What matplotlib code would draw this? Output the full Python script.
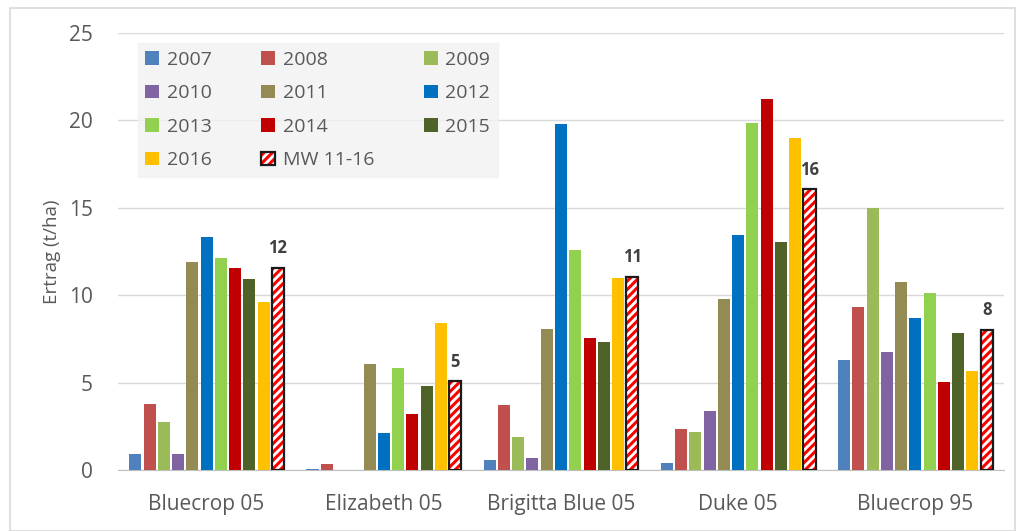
import numpy as np
import matplotlib.pyplot as plt
from matplotlib.patches import Rectangle

categories = ["Bluecrop 05", "Elizabeth 05", "Brigitta Blue 05", "Duke 05", "Bluecrop 95"]
years = ["2007", "2008", "2009", "2010", "2011", "2012", "2013", "2014", "2015", "2016"]

y2007 = [0.9, 0.06, 0.57, 0.38, 6.3]
y2008 = [3.76, 0.34, 3.72, 2.35, 9.3]
y2009 = [2.73, 0.0, 1.87, 2.19, 15.0]
y2010 = [0.9, 0.0, 0.67, 3.39, 6.73]
y2011 = [11.92, 6.06, 8.07, 9.78, 10.77]
y2012 = [13.35, 2.14, 19.8, 13.44, 8.71]
y2013 = [12.15, 5.86, 12.59, 19.87, 10.14]
y2014 = [11.54, 3.18, 7.55, 21.2, 5.05]
y2015 = [10.9, 4.83, 7.34, 13.02, 7.82]
y2016 = [9.63, 8.39, 10.97, 18.97, 5.66]
mw_11_16 = [11.58, 5.08, 11.05, 16.05, 8.03]
mw_labels = ["12", "5", "11", "16", "8"]

series = [y2007, y2008, y2009, y2010, y2011, y2012, y2013, y2014, y2015, y2016]
colors = ["#4F81BD", "#C0504D", "#9BBB59", "#8064A2", "#948A54",
          "#0070C0", "#92D050", "#C00000", "#4F6228", "#FFC000"]

plt.rcParams['font.family'] = ['Open Sans', 'DejaVu Sans']
plt.rcParams['hatch.linewidth'] = 2.2

fig = plt.figure(figsize=(10.2, 5.31), dpi=100)
fig.patches.append(Rectangle((0.01, 0.0), 0.985, 0.985, transform=fig.transFigure,
                             fill=False, edgecolor="#D9D9D9", linewidth=1.2))
ax = fig.add_axes([0.1157, 0.1149, 0.8686, 0.823])

x = np.arange(len(categories))
step = 0.0805
width = 0.068
n = len(series) + 1
offsets = (np.arange(n) - (n - 1) / 2) * step

handles = {}
for i, (vals, col) in enumerate(zip(series, colors)):
    handles[years[i]] = ax.bar(x + offsets[i], vals, width, color=col, zorder=3)

# average bars: red hatch on white, black outline drawn on top
mw_fill = ax.bar(x + offsets[-1], mw_11_16, width, color="white", edgecolor="#FF0000",
                 hatch="////", linewidth=0, zorder=3)
mw_edge = ax.bar(x + offsets[-1], mw_11_16, width, fill=False, edgecolor="#1a1a1a",
                 linewidth=1.6, zorder=4)
handles["MW 11-16"] = (mw_fill, mw_edge)

for xi, v, lab in zip(x + offsets[-1], mw_11_16, mw_labels):
    ax.text(xi, v + 0.6, lab, ha="center", va="bottom", fontsize=12,
            fontweight="bold", color="#404040")

ax.set_xlim(-0.5, len(categories) - 0.5)
ax.set_ylim(0, 25)
ax.set_yticks(range(0, 26, 5))
ax.set_xticks(x)
ax.set_xticklabels(categories)
ax.tick_params(axis="both", length=0, labelsize=15, labelcolor="#595959")
ax.tick_params(axis="y", pad=18)
ax.tick_params(axis="x", pad=17)
ax.yaxis.grid(True, color="#D9D9D9", linewidth=1, zorder=0)
for s in ["top", "right", "left"]:
    ax.spines[s].set_visible(False)
ax.spines["bottom"].set_color("#BFBFBF")
ax.set_ylabel("Ertrag (t/ha)", fontsize=13.5, color="#595959", labelpad=6)

# legend filled column by column, so order gives row-wise reading
order = ["2007", "2010", "2013", "2016",
         "2008", "2011", "2014", "MW 11-16",
         "2009", "2012", "2015"]
leg = ax.legend([handles[k] for k in order], order, ncol=3, loc="upper left",
                bbox_to_anchor=(0.022, 0.666, 0.407, 0.311), mode="expand",
                frameon=True, fancybox=False,
                fontsize=14, handlelength=0.7, handleheight=0.7,
                handletextpad=0.4, labelspacing=0.8,
                borderpad=0.4, borderaxespad=0)
leg.get_frame().set_facecolor("#F2F2F2")
leg.get_frame().set_edgecolor("#F2F2F2")
for t in leg.get_texts():
    t.set_color("#595959")

fig.savefig("out.png", dpi=100)
